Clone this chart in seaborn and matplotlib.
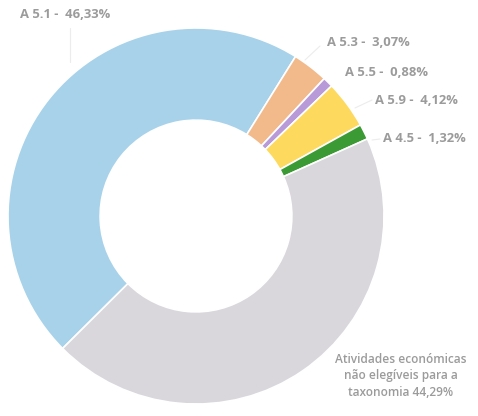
import matplotlib
matplotlib.use("Agg")
import matplotlib.pyplot as plt
import seaborn as sns

labels = ["A 5.1", "A 5.3", "A 5.5", "A 5.9", "A 4.5",
          "Atividades económicas\nnão elegíveis para a\ntaxonomia"]
shares = [46.33, 3.07, 0.88, 4.12, 1.32, 44.29]
label_texts = ["A 5.1 -  46,33%", "A 5.3 -  3,07%", "A 5.5 -  0,88%",
               "A 5.9 -  4,12%", "A 4.5 -  1,32%",
               "Atividades económicas\nnão elegíveis para a\ntaxonomia 44,29%"]
slice_colors = ["#a7d2ea", "#f2b98a", "#b99ad8", "#fdd95e", "#3c9a35", "#d9d6dc"]

sns.set_theme(style="white")
plt.rcParams['font.family'] = ['Open Sans', 'DejaVu Sans']

fig = plt.figure(figsize=(4.78, 4.16), dpi=100)
ax = fig.add_axes([0, 0, 1, 1])

ax.pie(shares, colors=slice_colors, startangle=224.8, counterclock=False,
       radius=1.0, wedgeprops=dict(width=0.49, edgecolor="white", linewidth=1.2))

scale = 188.0
ax.set_xlim(-196 / scale, (478 - 196) / scale)
ax.set_ylim(-200 / scale, 216 / scale)
ax.set_aspect("auto")
ax.axis("off")


def px(x, y):
    # pixel position on the image -> data coords
    return (x - 196) / scale, (216 - y) / scale


txt_kw = dict(color="#9b9b9b", fontsize=9.4, fontweight="bold")

# label positions (pixel) and leader line endpoints
label_pos = [(20, 15), (327, 42), (345, 72), (375, 100), (383, 139), (401, 376)]
leader = [((70, 28), (70, 62)), ((320, 46), (305, 60)), (None, None),
          ((372, 100), (355, 108)), ((380, 139), (372, 140)), (None, None)]

for i, t in enumerate(label_texts):
    x, y = px(*label_pos[i])
    if i == 5:
        ax.text(x, y, t, ha="center", va="center", linespacing=1.35,
                **{**txt_kw, "fontsize": 8.6, "fontweight": "semibold"})
    else:
        ax.text(x, y, t, ha="left", va="center", **txt_kw)
    a, b = leader[i]
    if a is not None:
        ax.plot(*zip(px(*a), px(*b)), color="#ececec", lw=0.8)

fig.savefig("out.png", dpi=100, facecolor="white")
